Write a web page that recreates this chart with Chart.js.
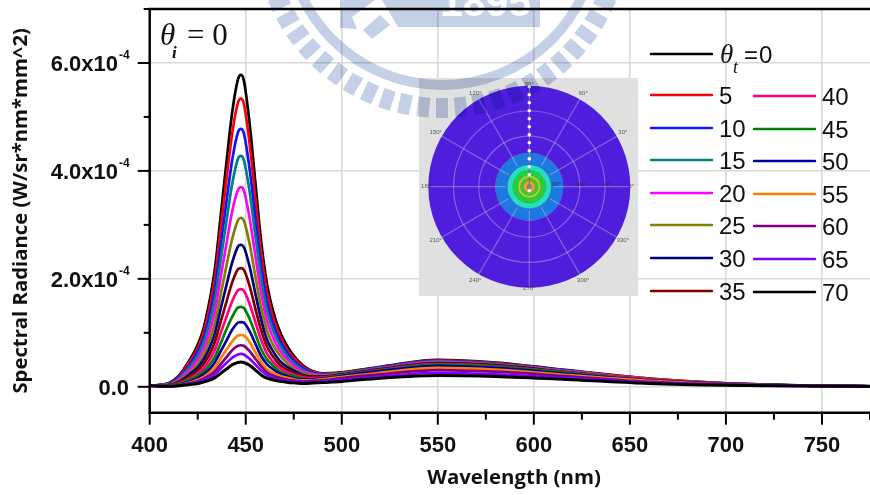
<!DOCTYPE html>
<html><head><meta charset="utf-8">
<style>
html,body{margin:0;padding:0;background:#fff;width:870px;height:495px;overflow:hidden}
#wrap{position:relative;width:870px;height:495px;background:#fff}
canvas{position:absolute;display:block}
#main{left:0;top:0;filter:blur(.45px)}
#inset{left:419px;top:78px;background:#e0e0e0;filter:blur(.6px)}
#mark{left:0;top:0;mix-blend-mode:multiply;pointer-events:none;filter:blur(.4px)}
</style>
<script src="https://cdn.jsdelivr.net/npm/chart.js@4"></script>
</head><body><div id="wrap">
<canvas id="main" width="870" height="495"></canvas>
<canvas id="inset" width="219" height="218"></canvas>
<canvas id="mark" width="870" height="495"></canvas>
</div>
<script>
// wavelength (nm); radiance values in units of 1e-4 W/sr/nm/mm^2
const wavelengths=[400,410,415,420,425,428,431,434,437,440,443,446,447.5,449,452,455,458,461,464,468,472,476,480,485,490,500,520,550,580,620,660,700,740,775];
const angles=['0','5','10','15','20','25','30','35','40','45','50','55','60','65','70'];
const colors=['#000000','#ff0000','#1414ff','#008080','#ff00ff','#808000','#000080','#800000','#ff0080','#008000','#0000a0','#ff8000','#800080','#8000ff','#000000'];
const t0 =[.02,.07,.20,.45,.78,1.08,1.56,2.20,3.18,4.17,5.10,5.70,5.78,5.68,4.88,3.79,2.70,1.92,1.43,1.00,.73,.53,.39,.29,.25,.27,.37,.50,.45,.30,.15,.065,.025,.01];
const t5 =[.02,.06,.19,.42,.72,1.00,1.44,2.03,2.94,3.85,4.71,5.27,5.34,5.25,4.51,3.50,2.50,1.77,1.32,.93,.67,.50,.37,.28,.24,.26,.36,.49,.44,.29,.15,.064,.025,.01];
const t10=[.02,.06,.17,.37,.65,.90,1.29,1.82,2.63,3.44,4.21,4.72,4.78,4.70,4.04,3.13,2.24,1.58,1.19,.84,.61,.45,.34,.26,.23,.25,.36,.48,.43,.29,.14,.062,.024,.01];
const t15=[.02,.05,.15,.33,.58,.81,1.16,1.63,2.35,3.08,3.77,4.23,4.28,4.20,3.62,2.80,2.01,1.42,1.07,.76,.55,.41,.31,.24,.22,.25,.35,.47,.42,.28,.14,.061,.024,.01];
const t20=[.02,.04,.13,.29,.50,.70,1.00,1.41,2.04,2.66,3.26,3.65,3.70,3.64,3.13,2.43,1.74,1.23,.93,.66,.49,.36,.28,.23,.21,.24,.34,.46,.41,.28,.14,.060,.024,.01];
const t25=[.02,.04,.11,.24,.42,.59,.85,1.19,1.72,2.25,2.75,3.09,3.13,3.08,2.65,2.05,1.48,1.05,.79,.57,.42,.31,.25,.21,.20,.24,.33,.45,.41,.27,.14,.059,.023,.01];
const t30=[.02,.03,.09,.21,.36,.50,.71,1.00,1.45,1.89,2.31,2.60,2.63,2.59,2.23,1.73,1.25,.88,.67,.47,.36,.28,.22,.19,.19,.23,.33,.44,.40,.26,.13,.057,.023,.01];
const t35=[.02,.03,.08,.17,.30,.42,.59,.84,1.21,1.58,1.94,2.18,2.20,2.17,1.87,1.45,1.05,.75,.57,.40,.31,.24,.20,.18,.18,.22,.32,.43,.39,.26,.13,.056,.023,.01];
const t40=[.02,.02,.06,.14,.24,.34,.49,.69,1.00,1.30,1.59,1.79,1.81,1.78,1.54,1.20,.87,.62,.47,.34,.26,.21,.17,.16,.17,.21,.31,.42,.38,.25,.13,.055,.023,.01];
const t45=[.02,.02,.05,.12,.20,.28,.40,.56,.81,1.07,1.30,1.47,1.48,1.46,1.26,.98,.70,.51,.40,.28,.22,.19,.15,.14,.16,.21,.30,.41,.37,.25,.12,.053,.022,.01];
const t50=[.02,.01,.04,.09,.16,.23,.32,.46,.66,.86,1.06,1.19,1.20,1.19,1.03,.80,.57,.42,.33,.24,.19,.15,.14,.14,.15,.20,.29,.39,.35,.23,.12,.051,.022,.01];
const t55=[.02,.01,.03,.07,.13,.18,.26,.36,.53,.69,.84,.95,.96,.95,.83,.64,.46,.33,.26,.20,.16,.13,.12,.12,.14,.18,.26,.35,.32,.21,.11,.046,.021,.01];
const t60=[.02,.01,.03,.06,.10,.15,.21,.29,.42,.55,.68,.76,.77,.76,.66,.52,.38,.27,.21,.16,.13,.11,.10,.11,.12,.16,.23,.31,.28,.19,.09,.040,.020,.01];
const t65=[.02,.01,.02,.05,.08,.12,.16,.23,.34,.44,.54,.60,.61,.60,.52,.41,.30,.22,.17,.13,.10,.09,.08,.08,.10,.13,.19,.26,.23,.16,.08,.034,.018,.01];
const t70=[.02,.01,.02,.04,.06,.09,.12,.17,.25,.33,.41,.45,.46,.45,.40,.31,.22,.16,.13,.10,.08,.07,.06,.07,.08,.10,.16,.21,.19,.13,.06,.027,.015,.01];
const seriesValues=[t0,t5,t10,t15,t20,t25,t30,t35,t40,t45,t50,t55,t60,t65,t70];
const xTicks=[400,425,450,475,500,525,550,575,600,625,650,675,700,725,750,775];
const xMajor=[400,450,500,550,600,650,700,750];
const yTicks=[0,1,2,3,4,5,6,7];
const yMajor=[0,2,4,6];
const yLabels=['0.0','2.0x10','4.0x10','6.0x10'];
const yExponent='-4';
// inset (polar contour map)
const ringRadii=[101,34,22,16.5,11.5,9,6,2.5];
const ringColors=['#4e1edc','#1d78e0','#22e0c0','#22d433','#a8d838','#40d020','#f0a030','#8c8c8c'];
const polarDots=[100,92,84,76,68,60,52,44,36,28,20,12,-4];
const polarCircles=[50.5,75.7];
const polarAngles=[0,30,60,90,120,150,180,210,240,270,300,330];
const polarRadialLabels=['30°','60°','90°'];
const polarRadialPos=[27,52,78,101];

const SANS='"Liberation Sans",Arial,sans-serif';
const SERIF='"Liberation Serif","DejaVu Serif",serif';

const frame={id:'frame',afterDatasetsDraw(c){
  const g=c.ctx,a=c.chartArea,xs=c.scales.x,ys=c.scales.y;
  g.save();g.strokeStyle='#000';g.lineWidth=2.5;g.lineCap='butt';
  g.beginPath();g.moveTo(a.right,a.top);g.lineTo(a.left,a.top);g.lineTo(a.left,a.bottom);g.lineTo(a.right,a.bottom);g.stroke();
  g.lineWidth=2;
  xTicks.forEach(v=>{const p=xs.getPixelForValue(v),l=xMajor.includes(v)?12:7;g.beginPath();g.moveTo(p,a.bottom);g.lineTo(p,a.bottom+l);g.stroke();});
  yTicks.forEach(v=>{const p=ys.getPixelForValue(v),l=yMajor.includes(v)?12:6;g.beginPath();g.moveTo(a.left,p);g.lineTo(a.left-l,p);g.stroke();});
  // y tick labels with superscript exponent
  g.fillStyle='#111';g.textBaseline='alphabetic';
  yMajor.forEach((v,i)=>{const p=ys.getPixelForValue(v);
    g.font='bold 22px '+SANS;g.textAlign='right';
    g.fillText(yLabels[i],v===0?129:118,p+8);
    if(v!==0){g.font='bold 12px '+SANS;g.textAlign='left';g.fillText(yExponent,119,p-3.5);}
  });
  // x axis title
  g.textAlign='center';g.font='bold 20.4px "Open Sans",sans-serif';g.fillText('Wavelength (nm)',514,484);
  // incidence annotation
  g.fillStyle='#111';g.textAlign='left';
  g.font='italic 31px '+SERIF;g.fillText('θ',160,45);
  g.font='italic bold 17px '+SERIF;g.fillText('i',172,58);
  g.font='31px '+SERIF;g.fillText('= 0',187,45);
  // legend
  const rows=[95,128,160,193,225,258,291];
  const lineRun=(x,y,col)=>{g.strokeStyle=col;g.lineWidth=2.4;g.lineCap='round';g.beginPath();g.moveTo(x,y);g.lineTo(x+61,y);g.stroke();};
  const ds=c.data.datasets;
  lineRun(651,54,ds[0].borderColor);
  g.fillStyle='#111';g.font='italic 27px '+SERIF;g.fillText('θ',720,63);
  g.font='italic 18px '+SERIF;g.fillText('t',733,73);
  g.font='24px '+SANS;g.fillText('=',744,63);g.fillText(ds[0].label,759,63);
  for(let i=1;i<ds.length;i++){
    const col=i<=7?0:1,r=col?i-8:i-1,y=rows[r]+(col?1:0),lx=col?754:651,tx=col?822:719;
    lineRun(lx,y,ds[i].borderColor);
    g.fillStyle='#111';g.font='24px '+SANS;g.textAlign='left';g.fillText(ds[i].label,tx,y+9);
  }
  g.restore();
}};

new Chart(document.getElementById('main'),{
  type:'line',
  data:{datasets:seriesValues.map((vals,i)=>({
    label:angles[i],
    data:vals.map((v,j)=>({x:wavelengths[j],y:v})),
    borderColor:colors[i],borderWidth:i===14?3:2.7,
    pointRadius:0,cubicInterpolationMode:'monotone',fill:false,order:14-i
  }))},
  options:{responsive:false,animation:false,devicePixelRatio:1,
    layout:{padding:{top:9,left:0,right:0,bottom:0}},
    plugins:{legend:{display:false},tooltip:{enabled:false}},
    scales:{
      x:{type:'linear',min:400,max:775,
        afterFit:s=>{s.height=82.3;s.paddingLeft=0;s.paddingRight=0;},
        afterBuildTicks:s=>{s.ticks=xTicks.map(v=>({value:v}));},
        grid:{drawTicks:false,lineWidth:1.6,color:t=>xMajor.includes(t.tick&&t.tick.value)?'#d8d8d8':'rgba(0,0,0,0)'},
        border:{display:false},
        ticks:{autoSkip:false,maxRotation:0,padding:20,color:'#111',font:{family:'Liberation Sans',weight:'bold',size:22},
          callback:v=>xMajor.includes(v)?String(v):''}
      },
      y:{type:'linear',min:-0.48,max:7,
        afterFit:s=>{s.width=149.7;s.paddingTop=0;s.paddingBottom=0;},
        afterBuildTicks:s=>{s.ticks=yTicks.map(v=>({value:v}));},
        grid:{drawTicks:false,lineWidth:1.6,color:t=>yMajor.includes(t.tick&&t.tick.value)?'#d8d8d8':'rgba(0,0,0,0)'},
        border:{display:false},
        ticks:{display:false},
        title:{display:true,text:'Spectral Radiance (W/sr*nm*mm^2)',color:'#111',font:{family:'Open Sans',weight:'bold',size:20.3},padding:{top:9,bottom:0}}
      }
    }
  },
  plugins:[frame]
});

const polarOverlay={id:'polarOverlay',afterDraw(c){
  const g=c.ctx,el=c.getDatasetMeta(0).data[0],cx=el.x,cy=el.y,R=el.outerRadius;
  g.save();
  g.strokeStyle='rgba(225,225,235,.36)';g.lineWidth=1.2;
  polarCircles.forEach(r=>{g.beginPath();g.arc(cx,cy,r,0,Math.PI*2);g.stroke();});
  polarAngles.forEach(a=>{const t=a*Math.PI/180;g.beginPath();g.moveTo(cx+24*Math.cos(t),cy-24*Math.sin(t));g.lineTo(cx+R*Math.cos(t),cy-R*Math.sin(t));g.stroke();});
  g.font='6px "Liberation Sans"';g.textAlign='center';g.textBaseline='middle';g.fillStyle='rgba(40,40,40,.75)';
  polarAngles.forEach(a=>{const t=a*Math.PI/180,q=R+(a%90===0?1:7);
    g.fillText(a+'°',Math.min(212,Math.max(6,cx+q*Math.cos(t))),Math.min(213,Math.max(5,cy-q*Math.sin(t))));});
  polarRadialLabels.forEach((s,i)=>g.fillText(s,cx+polarRadialPos[i],cy-2));
  g.fillStyle='#fff';
  polarDots.forEach(d=>{g.beginPath();g.arc(cx,cy-d,1.8,0,Math.PI*2);g.fill();});
  g.restore();
}};
new Chart(document.getElementById('inset'),{
  type:'doughnut',
  data:{labels:['map'],datasets:ringRadii.map((r,i)=>({
    data:[1],backgroundColor:ringColors[i],
    borderWidth:i===0?0:.5,borderColor:'rgba(20,20,70,.3)',
    weight:r-(i+1<ringRadii.length?ringRadii[i+1]:0)
  }))},
  options:{responsive:false,animation:false,devicePixelRatio:1,cutout:0,
    layout:{padding:{left:9.3,right:7.7,top:7.7,bottom:8.3}},
    plugins:{legend:{display:false},tooltip:{enabled:false}}},
  plugins:[polarOverlay]
});

// pale institutional emblem behind the figure
(function(){
  const g=document.getElementById('mark').getContext('2d');
  const cx=442,cy=-70,col='#c4d0e6';
  g.fillStyle=col;g.strokeStyle=col;
  g.beginPath();g.arc(cx,cy,155,0,Math.PI);g.lineWidth=10;g.stroke();
  g.lineWidth=12;g.lineCap='butt';
  for(let a=24;a<=156;a+=6){
    const t=a*Math.PI/180;
    g.beginPath();g.moveTo(cx+168*Math.cos(t),cy+168*Math.sin(t));g.lineTo(cx+188*Math.cos(t),cy+188*Math.sin(t));g.stroke();
  }
  const poly=p=>{g.beginPath();p.forEach((q,i)=>i?g.lineTo(q[0],q[1]):g.moveTo(q[0],q[1]));g.closePath();g.fill();};
  poly([[340,0],[340,28],[357,29],[352,17],[375,0]]);
  poly([[363,30],[372,39],[390,25],[380,15]]);
  poly([[382,0],[398,27],[540,27],[540,0]]);
  g.fillStyle='#fff';g.font='bold 41px "Liberation Sans"';g.textAlign='left';g.textBaseline='alphabetic';
  g.fillText('1895',440,16);
})();
</script>
</body></html>
